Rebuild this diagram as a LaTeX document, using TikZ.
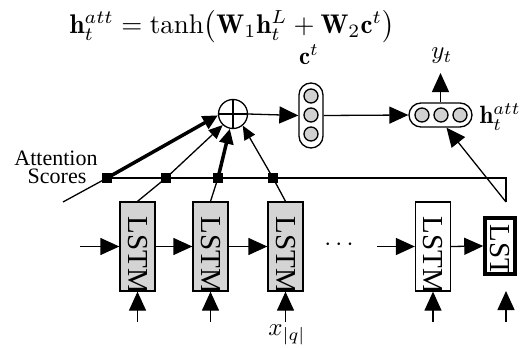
\documentclass[tikz,border=0pt]{standalone}
\usepackage{fontspec}
\newfontfamily\tms{Liberation Serif}
\usetikzlibrary{arrows.meta,calc}
\begin{document}
\begin{tikzpicture}[x=1pt,y=-1pt,
  thinl/.style={line width=1.3pt},
  ar/.style={-{Triangle[length=19pt,width=17pt]}, line width=1.3pt},
  sar/.style={-{Triangle[length=14pt,width=12pt]}, line width=1.3pt},
  tar/.style={-{Triangle[length=15pt,width=14pt]}, line width=3.5pt},
  sq/.style={fill=black, minimum size=10pt, inner sep=0pt},
  lstmtext/.style={path picture={\node[rotate=-90,anchor=west,inner sep=0pt,font=\tms\fontsize{29}{29}\selectfont] at ([yshift=-#1]path picture bounding box.north) {LSTM};}},
  lstmbox/.style={draw, line width=1.3pt, minimum width=35pt, minimum height=89pt, inner sep=0pt, lstmtext=14pt},
  vec/.style={draw, line width=1.3pt, rounded corners=12pt, inner sep=0pt},
  unit/.style={circle, draw, line width=1.3pt, fill=black!18, minimum size=14pt, inner sep=0pt},
  mathlbl/.style={inner sep=0pt, scale=2.5}
]
\useasboundingbox (0,0) rectangle (522,348);

% formula
\node[inner sep=0pt, scale=2.7] (eq) at (232,27)
  {$\mathbf{h}_t^{att} = \tanh\bigl(\mathbf{W}_1\mathbf{h}_t^{L} + \mathbf{W}_2\mathbf{c}^t\bigr)$};

% oplus
\node[circle, draw, line width=1.3pt, minimum size=29pt, inner sep=0pt] (op) at (233,114) {};
\draw[thinl] (op.north) -- (op.south) (op.west) -- (op.east);

% context vector
\node[vec, minimum width=24pt, minimum height=65pt] (ct) at (311,115.5) {};
\node[unit] (c1) at (311,96) {};
\node[unit] (c2) at (311,115) {};
\node[unit] (c3) at (311,134) {};
\node[mathlbl] (ctl) at (309,55) {$\mathbf{c}^t$};

% attention hidden vector
\node[vec, minimum width=63pt, minimum height=24pt] (ha) at (440.5,115) {};
\node[unit] (h1) at (422,115) {};
\node[unit] (h2) at (441,115) {};
\node[unit] (h3) at (460,115) {};
\node[mathlbl, anchor=west] (hal) at (479,117) {$\mathbf{h}_t^{att}$};
\coordinate (yt) at (440.5,73);
\node[mathlbl] (ytl) at (442,56) {$y_t$};

% LSTM boxes
\node[lstmbox, fill=black!17] (b1) at (137.5,246.5) {};
\node[lstmbox, fill=black!17] (b2) at (210.5,246.5) {};
\node[lstmbox, fill=black!17] (b3) at (285.5,246.5) {};
\node[lstmbox, fill=white] (b4) at (433,246.5) {};
\node[draw, line width=3.5pt, minimum width=30pt, minimum height=56pt, inner sep=0pt, lstmtext=5pt] (b5) at (500,246) {};

% attention score squares
\node[sq] (s1) at (107,178) {};
\node[sq] (s2) at (166,178) {};
\node[sq] (s3) at (218,178) {};
\node[sq] (s4) at (273,178) {};
\coordinate (s0) at (63,202);
\coordinate (r1) at (506,178);
\coordinate (r2) at (506,202);

\node[inner sep=0pt, font=\tms\fontsize{22}{22}\selectfont] (att1) at (56,158) {Attention};
\node[inner sep=0pt, font=\tms\fontsize{22}{22}\selectfont] (att2) at (57,176) {Scores};

% score line and return path
\draw[thinl] (s1.center) -- (r1) -- (r2);
\draw[ar] (r2) -- ([xshift=6pt]ha.south);

% box to squares
\draw[thinl] (s0) -- (s1.center);
\draw[thinl] (b1.north) -- (s2.center);
\draw[thinl] (b2.north) -- (s3.center);
\draw[thinl] (b3.north) -- (s4.center);

% squares to oplus
\draw[tar] (s1.center) -- (op.185);
\draw[sar] (s2.center) -- (op.227);
\draw[tar] (s3.center) -- (op.258);
\draw[sar] (s4.center) -- (op.310);
\node[sq] at (s1) {};
\node[sq] at (s2) {};
\node[sq] at (s3) {};
\node[sq] at (s4) {};

% top flow
\draw[ar] (op.east) -- (ct.west);
\draw[ar] (ct.east) -- (ha.west);
\draw[ar] (ha.north) -- (yt);

% recurrent flow
\coordinate (in0) at (80,246.5);
\coordinate (in4) at (377,246.5);
\draw[ar] (in0) -- (b1.west);
\draw[ar] (b1.east) -- (b2.west);
\draw[ar] (b2.east) -- (b3.west);
\node[inner sep=0pt, scale=2.5] (dots) at (339,245) {$\cdots$};
\draw[ar] (in4) -- (b4.west);
\draw[ar] (b4.east) -- (b5.west);

% inputs
\coordinate (x1) at (137.5,322);
\coordinate (x2) at (210.5,322);
\coordinate (x3) at (285.5,322);
\coordinate (x4) at (433,322);
\coordinate (x5) at (506,322);
\coordinate (x5e) at (506,291);
\draw[ar] (x1) -- (b1.south);
\draw[ar] (x2) -- (b2.south);
\draw[ar] (x3) -- (b3.south);
\draw[ar] (x4) -- (b4.south);
\draw[ar] (x5) -- (x5e);
\node[mathlbl] (xq) at (287,335) {$x_{|q|}$};
\end{tikzpicture}
\end{document}
